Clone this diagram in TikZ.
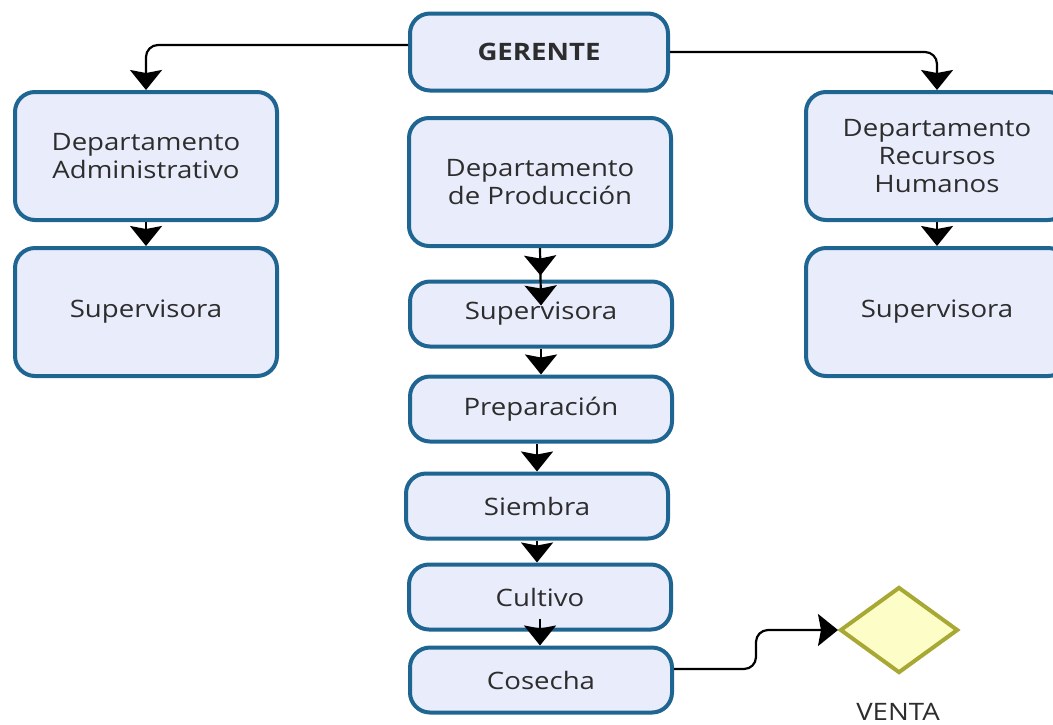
\documentclass[tikz,border=0pt]{standalone}
\usepackage{fontspec}
\setmainfont{Open Sans}[FakeStretch=1.15]
\usepackage{tikz}
\usetikzlibrary{%
    arrows.meta,%
    shapes.geometric%
}
\definecolor{boxline}{RGB}{31,101,145}
\definecolor{boxfill}{RGB}{233,236,250}
\definecolor{ventaline}{RGB}{168,168,52}
\definecolor{ventafill}{RGB}{253,253,200}
\definecolor{txt}{RGB}{45,45,45}

\begin{document}
\begin{tikzpicture}[
  x=0.5pt, y=-0.5pt,
  unit/.style={draw=boxline, fill=boxfill, line width=2pt,
    rounded corners=10pt, text=txt, align=center, inner sep=0pt,
    font=\fontsize{12}{14}\selectfont},
  tall/.style={unit, minimum width=131pt, minimum height=64pt},
  short/.style={unit, minimum width=131pt, minimum height=32.5pt},
  link/.style={line width=1.1pt, -{Stealth[length=10pt,width=16pt,inset=1.5pt]}},
  elbow/.style={link, rounded corners=6pt},
  ]
  \useasboundingbox (0,0) rectangle (1053,724);
  % Gerente
  \node[unit, minimum width=129pt, minimum height=38.5pt,
    font=\fontsize{12}{14}\selectfont\bfseries] (gerente) at (539,52) {GERENTE};
  % Left column
  \node[tall] (dadm) at (146,156) {Departamento\\Administrativo};
  \node[tall] (sadm) at (146,312) {Supervisora};
  % Right column
  \node[tall] (drh) at (937,156) {Departamento\\Recursos\\Humanos};
  \node[tall] (srh) at (937,312) {Supervisora};
  % Production chain
  \node[tall] (dprod) at (540,182) {Departamento\\de Producción};
  \node[short] (sprod) at (541,314) {Supervisora};
  \node[short] (prep) at (541,409) {Preparación};
  \node[short] (siem) at (537,506) {Siembra};
  \node[short] (cult) at (540,597) {Cultivo};
  \node[short] (cose) at (541,680) {Cosecha};
  % Venta
  \node[diamond, draw=ventaline, fill=ventafill, line width=2pt,
    minimum width=59pt, minimum height=43pt, inner sep=0pt] (venta) at (899,630) {};
  \node[text=txt, font=\fontsize{12}{14}\selectfont] (ventalabel) at (898,712) {VENTA};
  % Connectors from the top
  \draw[elbow] ([yshift=3.5pt]gerente.west) -| (dadm.north);
  \draw[elbow] (gerente.east) -| (drh.north);
  \draw[link] (dadm) -- (sadm);
  \draw[link] (drh) -- (srh);
  % Double head into the supervisor
  \draw[line width=1.1pt,
    -{Stealth[length=10pt,width=16pt,inset=1.5pt,sep=5pt]%
      Stealth[length=10pt,width=16pt,inset=1.5pt]}]
    (dprod.south) -- ([yshift=-13pt]sprod.north);
  \draw[link] (sprod.south) -- (sprod.south |- prep.north);
  \draw[link] (siem.north |- prep.south) -- (siem.north);
  \draw[link] (siem.south) -- (siem.south |- cult.north);
  \draw[link] ([yshift=6.5pt]cult.south) -- (cult.south |- cose.north);
  % To the sale
  \draw[elbow] ([yshift=5.5pt]cose.east) -| ([xshift=-41pt]venta.west) -- (venta.west);
\end{tikzpicture}
\end{document}
